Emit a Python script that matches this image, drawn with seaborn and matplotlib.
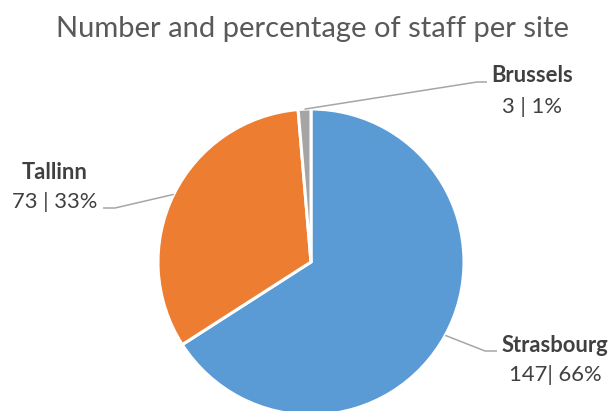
import matplotlib
matplotlib.use("Agg")
import matplotlib.pyplot as plt
import seaborn as sns
import numpy as np

# Staff per site
sites = ["Strasbourg", "Tallinn", "Brussels"]
staff = [147, 73, 3]
percent = [66, 33, 1]
value_labels = ["147| 66%", "73 | 33%", "3 | 1%"]

sns.set_theme(style="white")
plt.rcParams["font.family"] = ["Lato", "DejaVu Sans"]

colors = sns.color_palette(["#5B9BD5", "#ED7D31", "#A5A5A5"])

W, H = 610, 411
fig = plt.figure(figsize=(W / 100, H / 100), dpi=100)
ax = fig.add_axes([0, 0, 1, 1])

# pie centre and radius in pixels
CX, CY, R = 311, 262, 153


def px(x, y):
    """Pixel position (from top-left) to data coordinates."""
    return (x - CX) / R, (CY - y) / R


wedges, _ = ax.pie(
    staff,
    colors=colors,
    startangle=90,
    counterclock=False,
    radius=1.0,
    wedgeprops=dict(edgecolor="white", linewidth=2.2),
)

ax.set_xlim(-CX / R, (W - CX) / R)
ax.set_ylim(-(H - CY) / R, CY / R)
ax.set_aspect("equal")
ax.axis("off")

# label layout: text centre x, name baseline, value baseline, elbow, end of leader
layout = {
    "Strasbourg": dict(tx=555, y1=352, y2=381, elbow=(485, 351), end=(497, 351)),
    "Tallinn": dict(tx=55, y1=179, y2=208, elbow=(115, 208), end=(103, 208)),
    "Brussels": dict(tx=532, y1=82, y2=113, elbow=(477, 82), end=(487, 82)),
}

text_color = "#404040"
line_color = "#A6A6A6"

for wedge, site, vlab in zip(wedges, sites, value_labels):
    mid = np.deg2rad((wedge.theta1 + wedge.theta2) / 2)
    ax_x, ax_y = np.cos(mid) * 1.0, np.sin(mid) * 1.0
    L = layout[site]
    ex, ey = px(*L["elbow"])
    nx, ny = px(*L["end"])
    ax.plot([ax_x, ex, nx], [ax_y, ey, ny], color=line_color, lw=1.1,
            solid_capstyle="butt", zorder=1)
    tx, t1 = px(L["tx"], L["y1"])
    _, t2 = px(L["tx"], L["y2"])
    ax.text(tx, t1, site, ha="center", va="baseline", fontsize=15.8,
            fontweight="bold", color=text_color)
    ax.text(tx, t2, vlab, ha="center", va="baseline", fontsize=15.8,
            color=text_color)

tx, ty = px(312, 37)
ax.text(tx, ty, "Number and percentage of staff per site", ha="center",
        va="baseline", fontsize=21, color="#595959")

fig.savefig("out.png", dpi=100, facecolor="white")
